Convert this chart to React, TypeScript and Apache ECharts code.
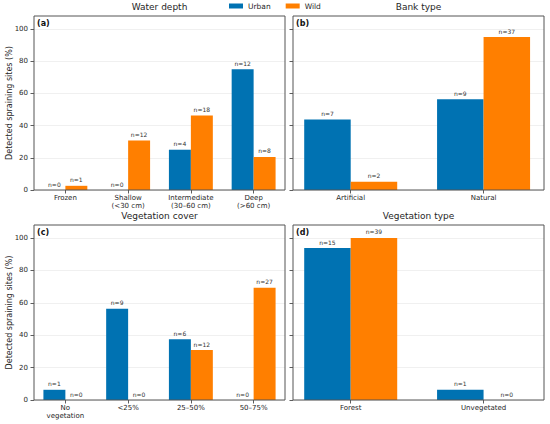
import React, { useEffect, useRef } from 'react';
import * as echarts from 'echarts';

const depthCats = ['Frozen', 'Shallow\n(<30 cm)', 'Intermediate\n(30–60 cm)', 'Deep\n(>60 cm)'];
const depthUrban = [0, 0, 25, 75];
const depthWild = [2.6, 30.8, 46.2, 20.5];
const depthUrbanN = [0, 0, 4, 12];
const depthWildN = [1, 12, 18, 8];

const bankCats = ['Artificial', 'Natural'];
const bankUrban = [43.8, 56.3];
const bankWild = [5.1, 94.9];
const bankUrbanN = [7, 9];
const bankWildN = [2, 37];

const coverCats = ['No\nvegetation', '<25%', '25–50%', '50–75%'];
const coverUrban = [6.3, 56.3, 37.5, 0];
const coverWild = [0, 0, 30.8, 69.2];
const coverUrbanN = [1, 9, 6, 0];
const coverWildN = [0, 0, 12, 27];

const typeCats = ['Forest', 'Unvegetated'];
const typeUrban = [93.8, 6.3];
const typeWild = [100, 0];
const typeUrbanN = [15, 1];
const typeWildN = [39, 0];

const yTicks = [0, 20, 40, 60, 80, 100];
const panelTitles = ['Water depth', 'Bank type', 'Vegetation cover', 'Vegetation type'];
const panelTags = ['(a)', '(b)', '(c)', '(d)'];

const FONT = 'DejaVu Sans';
const BLUE = '#0072B2';
const ORANGE = '#FF7F00';
const TEXT = '#262626';

// frames of the four panels
const frames = [
  { left: 34, top: 16, width: 251, height: 174 },
  { left: 293, top: 16, width: 251, height: 174 },
  { left: 34, top: 225, width: 251, height: 175 },
  { left: 293, top: 225, width: 251, height: 175 },
];
// panels (b),(d): matplotlib-like x limits [-0.435, 1.435]
const widen = (f: any) => {
  const unit = f.width / 1.87;
  const c0 = f.left + 0.435 * unit;
  return { left: c0 - unit / 2, top: f.top, width: unit * 2, height: f.height };
};

export default function App() {
  const ref = useRef<HTMLDivElement>(null);
  useEffect(() => {
    if (!ref.current) return;
    const chart = echarts.init(ref.current, undefined, { renderer: 'svg' });

    const grids = [
      frames[0],
      frames[1],
      widen(frames[1]),
      frames[2],
      frames[3],
      widen(frames[3]),
    ];

    const catAxis = (gridIndex: number, data: string[]) => ({
      type: 'category',
      gridIndex,
      data,
      axisLine: { show: false },
      axisTick: { show: true, alignWithLabel: true, length: 3.5, lineStyle: { color: '#333', width: 0.8 } },
      axisLabel: { fontSize: 7, color: TEXT, fontFamily: FONT, lineHeight: 8, margin: 4, interval: 0 },
      splitLine: { show: false },
    });
    const hiddenValX = (gridIndex: number) => ({ type: 'value', gridIndex, show: false, min: 0, max: 1 });

    const valAxis = (gridIndex: number, labels: boolean, named: boolean) => ({
      type: 'value',
      gridIndex,
      min: 0,
      max: 108,
      interval: 20,
      axisLine: { show: false },
      axisTick: { show: true, length: 3.5, customValues: yTicks, lineStyle: { color: '#333', width: 0.8 } },
      axisLabel: {
        show: labels,
        customValues: yTicks,
        fontSize: 7,
        color: TEXT,
        fontFamily: FONT,
        margin: 6,
        formatter: (v: number) => (v % 20 === 0 && v <= 100 ? String(v) : ''),
      },
      splitLine: { show: true, lineStyle: { color: '#ececec', width: 0.8 } },
      name: named ? 'Detected spraining sites (%)' : '',
      nameLocation: 'middle',
      nameGap: 21,
      nameMoveOverlap: false,
      nameTextStyle: { fontSize: 8, color: TEXT, fontFamily: FONT },
    });
    const hiddenValY = (gridIndex: number) => ({ type: 'value', gridIndex, show: false, min: 0, max: 108 });

    const bars = (name: string, data: number[], ns: number[], color: string, idx: number) => ({
      type: 'bar',
      name,
      data,
      xAxisIndex: idx,
      yAxisIndex: idx,
      barWidth: '35%',
      barGap: '0%',
      itemStyle: { color },
      label: {
        show: true,
        position: 'top',
        distance: 3,
        fontSize: 6,
        color: '#333',
        fontFamily: FONT,
        formatter: (p: any) => 'n=' + ns[p.dataIndex],
      },
    });

    const graphics: any[] = [];
    frames.forEach((f, i) => {
      graphics.push({
        type: 'rect',
        shape: { x: f.left, y: f.top, width: f.width, height: f.height },
        style: { fill: 'none', stroke: '#555', lineWidth: 1 },
        z: 100,
        silent: true,
      });
      graphics.push({
        type: 'text',
        x: f.left + f.width / 2,
        y: f.top - 9,
        style: { text: panelTitles[i], fontSize: 9, fill: TEXT, fontFamily: FONT, textAlign: 'center', textVerticalAlign: 'middle' },
        z: 100,
      });
      graphics.push({
        type: 'text',
        x: f.left + 3,
        y: f.top + 7.5,
        style: { text: panelTags[i], fontSize: 8, fontWeight: 'bold', fill: '#111', fontFamily: FONT, textAlign: 'left', textVerticalAlign: 'middle' },
        z: 100,
      });
    });

    chart.setOption({
      animation: false,
      backgroundColor: '#fff',
      textStyle: { fontFamily: FONT },
      legend: {
        data: ['Urban', 'Wild'],
        left: 229,
        top: 2,
        padding: 0,
        icon: 'rect',
        itemWidth: 14,
        itemHeight: 5,
        itemGap: 15,
        textStyle: { fontSize: 7.5, color: TEXT, fontFamily: FONT },
      },
      grid: grids.map((g) => ({ ...g, show: false })),
      xAxis: [
        catAxis(0, depthCats),
        hiddenValX(1),
        catAxis(2, bankCats),
        catAxis(3, coverCats),
        hiddenValX(4),
        catAxis(5, typeCats),
      ],
      yAxis: [
        valAxis(0, true, true),
        valAxis(1, false, false),
        hiddenValY(2),
        valAxis(3, true, true),
        valAxis(4, false, false),
        hiddenValY(5),
      ],
      series: [
        bars('Urban', depthUrban, depthUrbanN, BLUE, 0),
        bars('Wild', depthWild, depthWildN, ORANGE, 0),
        bars('Urban', bankUrban, bankUrbanN, BLUE, 2),
        bars('Wild', bankWild, bankWildN, ORANGE, 2),
        bars('Urban', coverUrban, coverUrbanN, BLUE, 3),
        bars('Wild', coverWild, coverWildN, ORANGE, 3),
        bars('Urban', typeUrban, typeUrbanN, BLUE, 5),
        bars('Wild', typeWild, typeWildN, ORANGE, 5),
      ],
      graphic: graphics,
    });
    return () => chart.dispose();
  }, []);
  return <div ref={ref} style={{ position: 'fixed', left: 0, top: 0, width: 550, height: 424, background: '#fff' }} />;
}
